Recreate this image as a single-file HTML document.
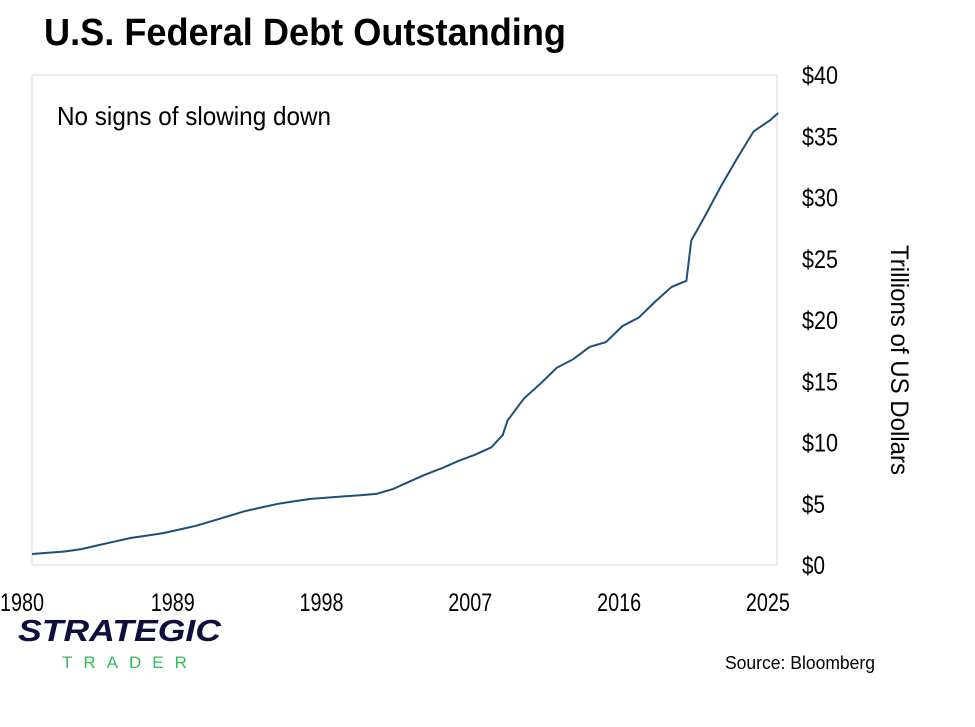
<!DOCTYPE html>
<html><head><meta charset="utf-8"><style>
body{margin:0;background:#fff;width:975px;height:722px;overflow:hidden;font-family:"Liberation Sans",sans-serif;}
</style></head><body>
<svg width="975" height="722" xmlns="http://www.w3.org/2000/svg" id="chart">
<text x="44" y="45" font-size="38" font-weight="bold" textLength="522" lengthAdjust="spacingAndGlyphs">U.S. Federal Debt Outstanding</text>
<rect x="32" y="75" width="745" height="490" fill="none" stroke="#d9d9d9"/>
<text x="57" y="125" font-size="26" textLength="274" lengthAdjust="spacingAndGlyphs">No signs of slowing down</text>
<g id="yticks"></g><g id="xticks"></g>
<text transform="translate(891,360) rotate(90)" text-anchor="middle" font-size="25" textLength="230" lengthAdjust="spacingAndGlyphs">Trillions of US Dollars</text>
<path id="line" fill="none" stroke="#1f4e79" stroke-width="2"/>
<text x="18" y="641" font-size="31" font-weight="900" font-style="italic" fill="#0f0f3d" textLength="203" lengthAdjust="spacingAndGlyphs">STRATEGIC</text>
<text x="62" y="668" font-size="17" fill="#2ebd59" letter-spacing="11">TRADER</text>
<text x="725" y="669" font-size="18" textLength="150" lengthAdjust="spacingAndGlyphs">Source: Bloomberg</text>
</svg>
<script>
const years=[1980,1981,1982,1983,1984,1985,1986,1987,1988,1989,1990,1991,1992,1993,1994,1995,1996,1997,1998,1999,2000,2001,2002,2003,2004,2005,2006,2007,2008,2008.7,2009,2010,2011,2012,2013,2014,2015,2016,2017,2018,2019,2019.9,2020.2,2020.5,2021,2022,2023,2024,2025,2025.5];
const debt=[0.9,1.0,1.1,1.3,1.6,1.9,2.2,2.4,2.6,2.9,3.2,3.6,4.0,4.4,4.7,5.0,5.2,5.4,5.5,5.6,5.7,5.8,6.2,6.8,7.4,7.9,8.5,9.0,9.6,10.6,11.8,13.6,14.8,16.1,16.8,17.8,18.2,19.5,20.2,21.5,22.7,23.2,26.5,27.2,28.4,30.9,33.2,35.4,36.3,36.9];
const yTicks=[0,5,10,15,20,25,30,35,40];
const xTicks=[1980,1989,1998,2007,2016,2025];
const ns="http://www.w3.org/2000/svg";
const X=y=>32+(y-1980)*16.4, Y=v=>565-v*12.25, XL=y=>24+(y-1980)*16.53;
const yt=document.getElementById('yticks');
yTicks.forEach(v=>{const t=document.createElementNS(ns,'text');


const s='$'+v;
t.setAttribute('x',802);t.setAttribute('y',Y(v)+9);t.setAttribute('font-size','25');
t.setAttribute('textLength',s.length===2?23:36);t.setAttribute('lengthAdjust','spacingAndGlyphs');
t.textContent=s;yt.appendChild(t);});
const xt=document.getElementById('xticks');
xTicks.forEach(v=>{const t=document.createElementNS(ns,'text');


t.setAttribute('x',XL(v)-22+(v===1980?-2:0));t.setAttribute('y',611);t.setAttribute('font-size','25');
t.setAttribute('textLength',44);t.setAttribute('lengthAdjust','spacingAndGlyphs');
t.textContent=v;xt.appendChild(t);});
document.getElementById('line').setAttribute('d',years.map((y,i)=>(i?'L':'M')+X(y).toFixed(1)+','+Y(debt[i]).toFixed(1)).join(''));
</script>
</body></html>
